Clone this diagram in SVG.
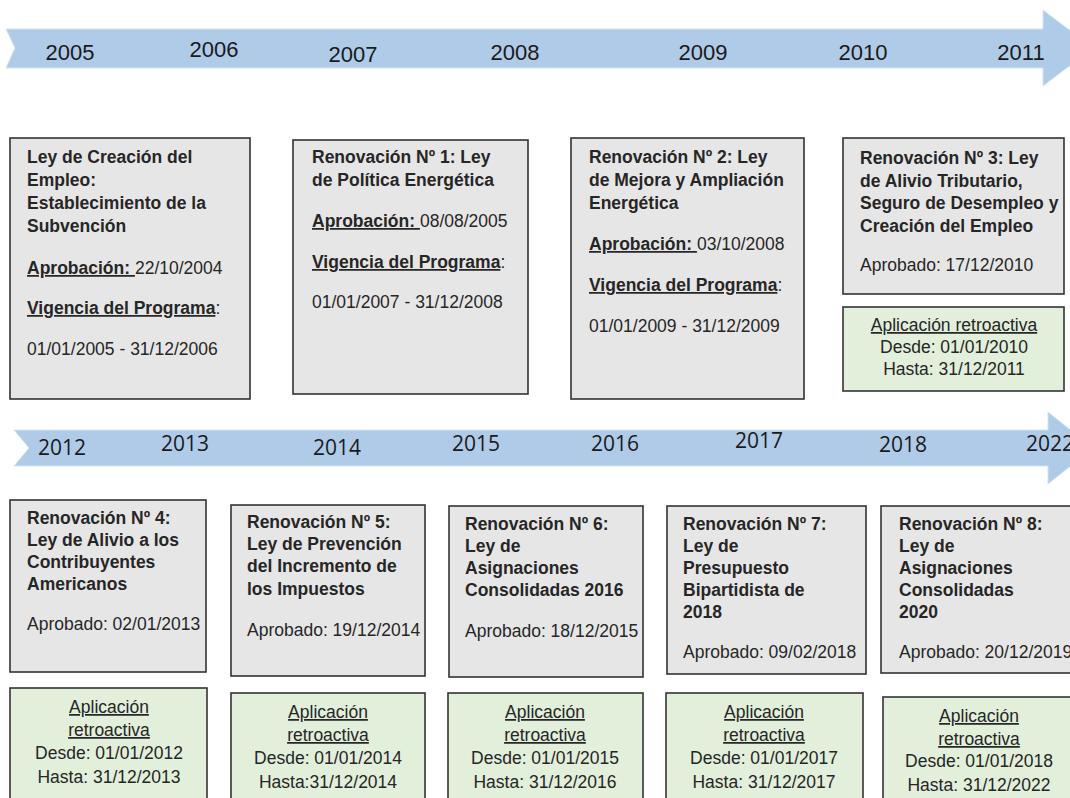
<svg xmlns="http://www.w3.org/2000/svg" width="1070" height="798" viewBox="0 0 1070 798">
<style>
.bg{fill:#ffffff}
.arrow{fill:#afcbe8;stroke:#d4e3f3;stroke-width:1}
.yr{font-family:"Liberation Sans",Arial,sans-serif;font-size:22px;fill:#1a1a1a;text-anchor:middle}
.yr2{font-family:"Open Sans","Liberation Sans",sans-serif;font-size:21px;fill:#1a1a1a;text-anchor:middle}
.box{fill:#e7e6e6;stroke:#333333;stroke-width:1.6}
.gbox{fill:#e2efda;stroke:#333333;stroke-width:1.6}
.t{font-family:"Liberation Sans",Arial,sans-serif;font-size:17.5px;fill:#262626}
.b{font-weight:bold}
.c{text-anchor:middle}
.u{text-decoration:underline}
</style>
<rect class="bg" x="0" y="0" width="1070" height="798"/>
<g id="connectors">
  <polygon id="timeline1" class="arrow" points="6,29 1043,29 1043,10 1093,48 1043,86 1043,68 6,68 15,48"/>
  <polygon id="timeline2" class="arrow" points="14,430 1048,430 1048,412 1093,448 1048,484 1048,466 14,466 29,448"/>
</g>
<g id="years1">
  <text class="yr" x="70" y="60">2005</text>
  <text class="yr" x="214" y="57">2006</text>
  <text class="yr" x="353" y="62">2007</text>
  <text class="yr" x="515" y="60">2008</text>
  <text class="yr" x="703" y="60">2009</text>
  <text class="yr" x="863" y="60">2010</text>
  <text class="yr" x="1021" y="60">2011</text>
</g>
<g id="years2">
  <text class="yr2" x="62" y="455">2012</text>
  <text class="yr2" x="185" y="451">2013</text>
  <text class="yr2" x="337" y="455">2014</text>
  <text class="yr2" x="476" y="451">2015</text>
  <text class="yr2" x="615" y="451">2016</text>
  <text class="yr2" x="759" y="448">2017</text>
  <text class="yr2" x="903" y="452">2018</text>
  <text class="yr2" x="1050" y="451">2022</text>
</g>
<g id="ley-creacion">
  <rect class="box" x="10" y="138" width="240" height="261"/>
  <text class="t b" x="27" y="163">Ley de Creación del</text>
  <text class="t b" x="27" y="186">Empleo:</text>
  <text class="t b" x="27" y="209">Establecimiento de la</text>
  <text class="t b" x="27" y="232">Subvención</text>
  <text class="t" x="27" y="274"><tspan class="b u">Aprobación: </tspan>22/10/2004</text>
  <text class="t" x="27" y="314"><tspan class="b u">Vigencia del Programa</tspan>:</text>
  <text class="t" x="27" y="355">01/01/2005 - 31/12/2006</text>
</g>
<g id="renovacion-1">
  <rect class="box" x="293" y="140" width="235" height="254"/>
  <text class="t b" x="312" y="163">Renovación Nº 1: Ley</text>
  <text class="t b" x="312" y="186">de Política Energética</text>
  <text class="t" x="312" y="227"><tspan class="b u">Aprobación: </tspan>08/08/2005</text>
  <text class="t" x="312" y="268"><tspan class="b u">Vigencia del Programa</tspan>:</text>
  <text class="t" x="312" y="308">01/01/2007 - 31/12/2008</text>
</g>
<g id="renovacion-2">
  <rect class="box" x="571" y="138" width="233" height="261"/>
  <text class="t b" x="589" y="163">Renovación Nº 2: Ley</text>
  <text class="t b" x="589" y="186">de Mejora y Ampliación</text>
  <text class="t b" x="589" y="209">Energética</text>
  <text class="t" x="589" y="250"><tspan class="b u">Aprobación: </tspan>03/10/2008</text>
  <text class="t" x="589" y="291"><tspan class="b u">Vigencia del Programa</tspan>:</text>
  <text class="t" x="589" y="332">01/01/2009 - 31/12/2009</text>
</g>
<g id="renovacion-3">
  <rect class="box" x="843" y="138" width="221" height="156"/>
  <text class="t b" x="860" y="164">Renovación Nº 3: Ley</text>
  <text class="t b" x="860" y="187">de Alivio Tributario,</text>
  <text class="t b" x="860" y="209">Seguro de Desempleo y</text>
  <text class="t b" x="860" y="232">Creación del Empleo</text>
  <text class="t" x="860" y="271">Aprobado: 17/12/2010</text>
</g>
<g id="retro-3">
  <rect class="gbox" x="843" y="307" width="221" height="84"/>
  <text class="t c u" x="954" y="331">Aplicación retroactiva</text>
  <text class="t c" x="954" y="353">Desde: 01/01/2010</text>
  <text class="t c" x="954" y="375">Hasta: 31/12/2011</text>
</g>
<g id="renovacion-4">
  <rect class="box" x="10" y="500" width="196" height="172"/>
  <text class="t b" x="27" y="524">Renovación Nº 4:</text>
  <text class="t b" x="27" y="546">Ley de Alivio a los</text>
  <text class="t b" x="27" y="568">Contribuyentes</text>
  <text class="t b" x="27" y="590">Americanos</text>
  <text class="t" x="27" y="630">Aprobado: 02/01/2013</text>
</g>
<g id="retro-4">
  <rect class="gbox" x="10" y="688" width="197" height="112"/>
  <text class="t c u" x="109" y="713">Aplicación</text>
  <text class="t c u" x="109" y="736">retroactiva</text>
  <text class="t c" x="109" y="759">Desde: 01/01/2012</text>
  <text class="t c" x="109" y="783">Hasta: 31/12/2013</text>
</g>
<g id="renovacion-5">
  <rect class="box" x="231" y="505" width="194" height="171"/>
  <text class="t b" x="247" y="528">Renovación Nº 5:</text>
  <text class="t b" x="247" y="550">Ley de Prevención</text>
  <text class="t b" x="247" y="572">del Incremento de</text>
  <text class="t b" x="247" y="595">los Impuestos</text>
  <text class="t" x="247" y="636">Aprobado: 19/12/2014</text>
</g>
<g id="retro-5">
  <rect class="gbox" x="231" y="693" width="194" height="107"/>
  <text class="t c u" x="328" y="718">Aplicación</text>
  <text class="t c u" x="328" y="741">retroactiva</text>
  <text class="t c" x="328" y="764">Desde: 01/01/2014</text>
  <text class="t c" x="328" y="788">Hasta:31/12/2014</text>
</g>
<g id="renovacion-6">
  <rect class="box" x="449" y="506" width="194" height="171"/>
  <text class="t b" x="465" y="530">Renovación Nº 6:</text>
  <text class="t b" x="465" y="552">Ley de</text>
  <text class="t b" x="465" y="574">Asignaciones</text>
  <text class="t b" x="465" y="596">Consolidadas 2016</text>
  <text class="t" x="465" y="637">Aprobado: 18/12/2015</text>
</g>
<g id="retro-6">
  <rect class="gbox" x="448" y="693" width="195" height="107"/>
  <text class="t c u" x="545" y="718">Aplicación</text>
  <text class="t c u" x="545" y="741">retroactiva</text>
  <text class="t c" x="545" y="764">Desde: 01/01/2015</text>
  <text class="t c" x="545" y="788">Hasta: 31/12/2016</text>
</g>
<g id="renovacion-7">
  <rect class="box" x="667" y="506" width="199" height="168"/>
  <text class="t b" x="683" y="530">Renovación Nº 7:</text>
  <text class="t b" x="683" y="552">Ley de</text>
  <text class="t b" x="683" y="574">Presupuesto</text>
  <text class="t b" x="683" y="596">Bipartidista de</text>
  <text class="t b" x="683" y="618">2018</text>
  <text class="t" x="683" y="658">Aprobado: 09/02/2018</text>
</g>
<g id="retro-7">
  <rect class="gbox" x="666" y="693" width="197" height="107"/>
  <text class="t c u" x="764" y="718">Aplicación</text>
  <text class="t c u" x="764" y="741">retroactiva</text>
  <text class="t c" x="764" y="764">Desde: 01/01/2017</text>
  <text class="t c" x="764" y="788">Hasta: 31/12/2017</text>
</g>
<g id="renovacion-8">
  <rect class="box" x="881" y="506" width="200" height="167"/>
  <text class="t b" x="899" y="530">Renovación Nº 8:</text>
  <text class="t b" x="899" y="552">Ley de</text>
  <text class="t b" x="899" y="574">Asignaciones</text>
  <text class="t b" x="899" y="596">Consolidadas</text>
  <text class="t b" x="899" y="618">2020</text>
  <text class="t" x="899" y="658">Aprobado: 20/12/2019</text>
</g>
<g id="retro-8">
  <rect class="gbox" x="883" y="697" width="190" height="103"/>
  <text class="t c u" x="979" y="722">Aplicación</text>
  <text class="t c u" x="979" y="745">retroactiva</text>
  <text class="t c" x="979" y="767">Desde: 01/01/2018</text>
  <text class="t c" x="979" y="791">Hasta: 31/12/2022</text>
</g>
</svg>
